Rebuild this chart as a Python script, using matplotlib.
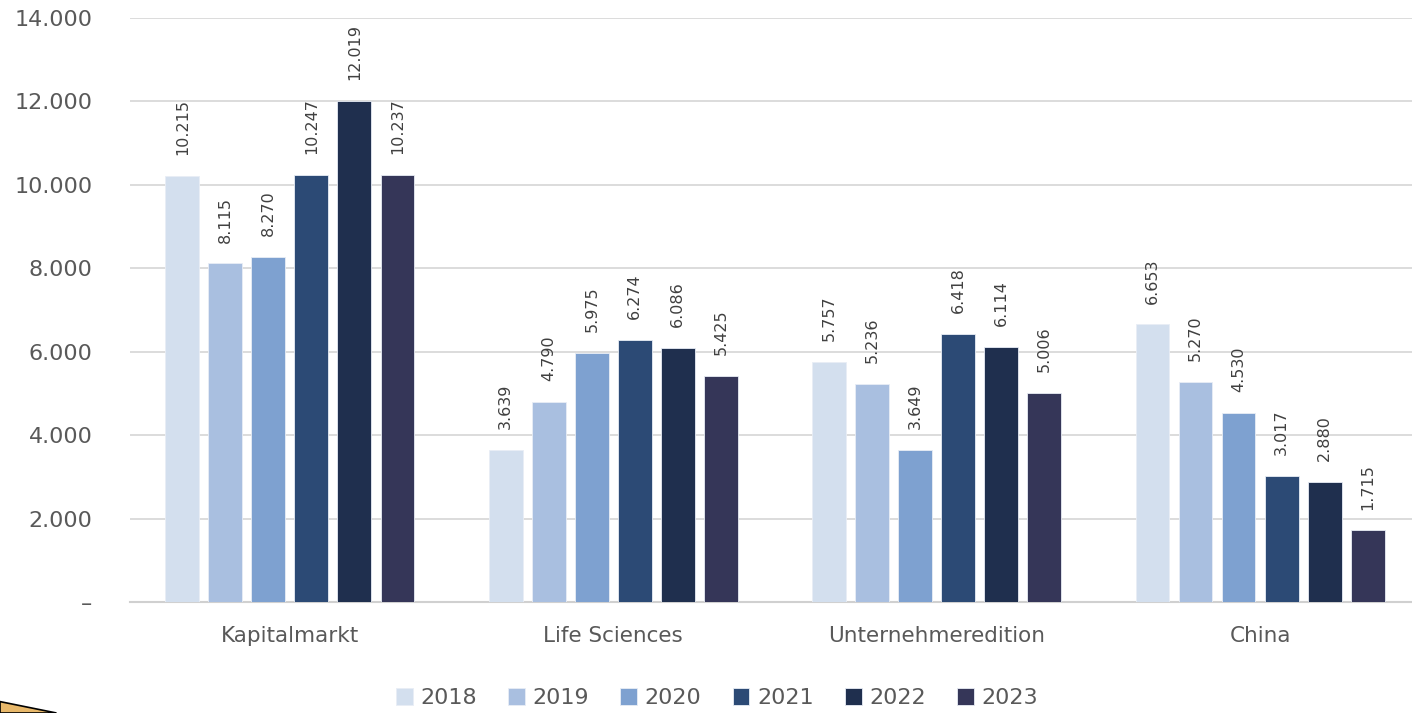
import matplotlib
matplotlib.use("Agg")
import matplotlib.pyplot as plt
from matplotlib.patches import Polygon
from matplotlib.ticker import FuncFormatter
import numpy as np

categories = ["Kapitalmarkt", "Life Sciences", "Unternehmeredition", "China"]
years = ["2018", "2019", "2020", "2021", "2022", "2023"]
values = {
    "2018": [10215, 3639, 5757, 6653],
    "2019": [8115, 4790, 5236, 5270],
    "2020": [8270, 5975, 3649, 4530],
    "2021": [10247, 6274, 6418, 3017],
    "2022": [12019, 6086, 6114, 2880],
    "2023": [10237, 5425, 5006, 1715],
}
colors = ["#D3DFEE", "#A9BFE0", "#7EA1D0", "#2C4A75", "#1F2F4E", "#353658"]

TXT = "#595959"
plt.rcParams['font.family'] = ['DejaVu Sans']

fig = plt.figure(figsize=(14.12, 7.13), dpi=100)
ax = fig.add_axes([0.092, 0.1557, 0.908, 0.8191])

x = np.arange(len(categories))
pitch = 0.133
width = 0.105
for i, yr in enumerate(years):
    pos = x + (i - 2.5) * pitch
    ax.bar(pos, values[yr], width=width, color=colors[i], edgecolor="#E8EDF5",
           linewidth=0.6, label=yr, zorder=3)
    for px, v in zip(pos, values[yr]):
        ax.annotate(f"{v:,}".replace(",", "."), (px, v), xytext=(0, 15),
                    textcoords="offset points", rotation=90, ha="center",
                    va="bottom", fontsize=11.5, color="#404040")

ax.set_xlim(-0.495, 3.47)
ax.set_ylim(0, 14000)
ax.set_yticks(range(0, 14001, 2000))
ax.yaxis.set_major_formatter(FuncFormatter(
    lambda v, p: "–" if v == 0 else f"{int(v):,}".replace(",", ".")))
ax.set_xticks(x)
ax.set_xticklabels(categories)
ax.tick_params(axis="y", length=0, pad=27, labelsize=16, labelcolor=TXT)
ax.tick_params(axis="x", length=0, pad=17, labelsize=15.5, labelcolor=TXT)
ax.grid(axis="y", color="#D9D9D9", linewidth=1.3, zorder=0)
for s in ["top", "right", "left"]:
    ax.spines[s].set_visible(False)
ax.spines["bottom"].set_color("#D0D0D0")
ax.spines["bottom"].set_linewidth(1.5)

ax.legend(loc="center", bbox_to_anchor=(0.458, -0.165), ncol=6, frameon=False,
          fontsize=16, labelcolor=TXT, handlelength=0.75, handleheight=0.75,
          handletextpad=0.35, columnspacing=1.4, bbox_transform=ax.transAxes)

# little slide decoration in the bottom-left corner
fig.patches.append(Polygon([[0, 0.016], [0.04, 0.0], [0, 0.0]], closed=True,
                           transform=fig.transFigure, facecolor="#E8B86A",
                           edgecolor="black", linewidth=1.2))

fig.savefig("out.png", dpi=100)
